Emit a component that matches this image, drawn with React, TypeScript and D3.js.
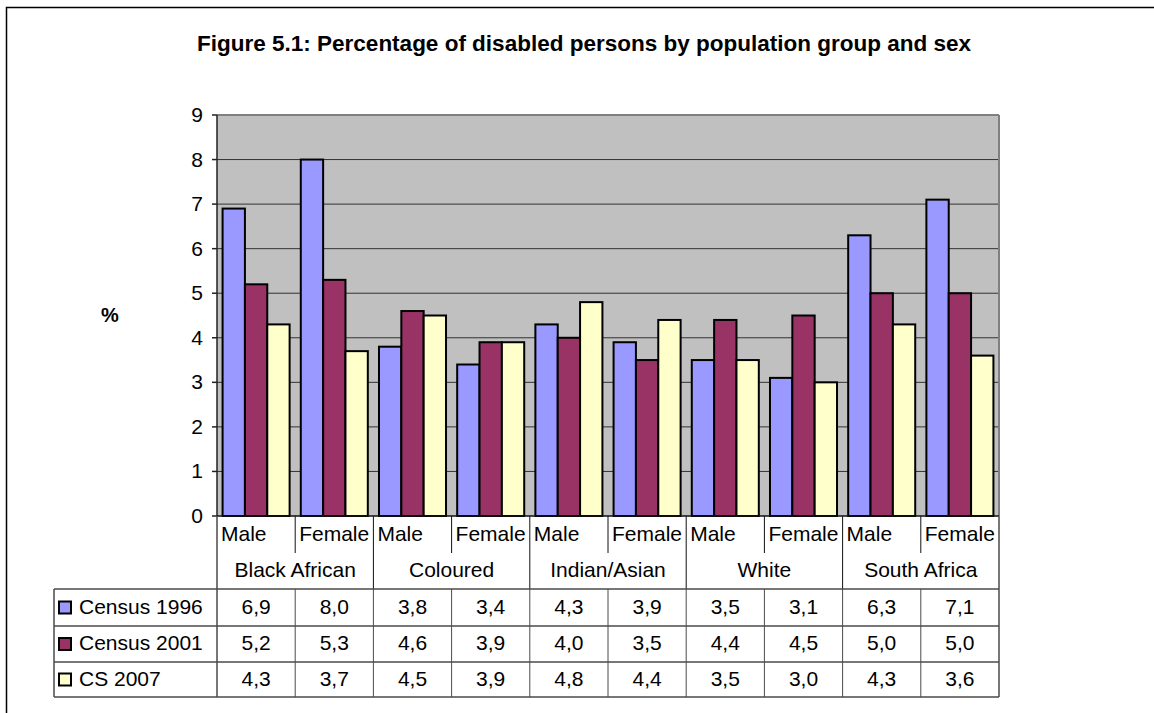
import React from "react";
import * as d3 from "d3";

const groups = ["Black African", "Coloured", "Indian/Asian", "White", "South Africa"];
const sexes = ["Male", "Female"];
const seriesNames = ["Census 1996", "Census 2001", "CS 2007"];
const census1996 = [6.9, 8.0, 3.8, 3.4, 4.3, 3.9, 3.5, 3.1, 6.3, 7.1];
const census2001 = [5.2, 5.3, 4.6, 3.9, 4.0, 3.5, 4.4, 4.5, 5.0, 5.0];
const cs2007 = [4.3, 3.7, 4.5, 3.9, 4.8, 4.4, 3.5, 3.0, 4.3, 3.6];
const yTicks = [0, 1, 2, 3, 4, 5, 6, 7, 8, 9];
const colors = ["#9999FF", "#993366", "#FFFFCC"];
const title = "Figure 5.1: Percentage of disabled persons by population group and sex";

const seriesValues = [census1996, census2001, cs2007];
const categories = groups.flatMap((g) => sexes.map((s) => `${g}|${s}`));

const FONT = "'Liberation Sans', Arial, sans-serif";

export default function App() {
  const left = 217, right = 999, top = 115, bottom = 516;
  const x = d3.scaleBand<string>().domain(categories).range([left, right]).paddingInner(0).paddingOuter(0);
  const inner = d3.scaleBand<number>().domain([0, 1, 2]).range([0, x.bandwidth()]).paddingOuter(0.25).paddingInner(0);
  const y = d3.scaleLinear().domain([0, 9]).range([bottom, top]);
  const colW = x.bandwidth();
  const catRowB = 553, groupRowB = 589;
  const rowBs = [626, 662, 697];
  const rowTs = [589, 626, 662];
  const legendLeft = 54;
  const fmt = (v: number) => v.toFixed(1).replace(".", ",");
  const lineC = "#4a4a4a";
  const fs = 21;

  return (
    <svg width={1154} height={713} style={{ position: "absolute", left: 0, top: 0 }} fontFamily={FONT}>
      <rect x={0} y={0} width={1154} height={713} fill="#fff" />
      <path d="M6.5,713 L6.5,7.5 L1154,7.5" fill="none" stroke="#000" strokeWidth={1.5} />
      <text x={584} y={51} textAnchor="middle" fontWeight="bold" fontSize={22.5}>{title}</text>
      <text x={110} y={322} textAnchor="middle" fontWeight="bold" fontSize={20}>%</text>

      <rect x={left} y={top} width={right - left} height={bottom - top} fill="#C0C0C0" />
      {yTicks.filter((t) => t > 0 && t < 9).map((t) => (
        <line key={t} x1={left} x2={right} y1={y(t)} y2={y(t)} stroke="#333" strokeWidth={1} />
      ))}
      <line x1={left} x2={right} y1={top} y2={top} stroke="#808080" strokeWidth={2} />
      <line x1={right} x2={right} y1={top} y2={bottom} stroke="#808080" strokeWidth={2} />

      {seriesValues.map((vals, si) =>
        vals.map((v, ci) => {
          const bx = (x(categories[ci]) as number) + (inner(si) as number);
          return (
            <rect key={`${si}-${ci}`} x={bx} y={y(v)} width={inner.bandwidth()} height={bottom - y(v)}
              fill={colors[si]} stroke="#000" strokeWidth={2} />
          );
        })
      )}

      <line x1={left} x2={left} y1={top} y2={bottom} stroke="#222" strokeWidth={1.5} />
      {yTicks.map((t) => (
        <g key={t}>
          <line x1={left - 5} x2={left} y1={y(t)} y2={y(t)} stroke="#222" strokeWidth={1.5} />
          <text x={left - 14} y={y(t) + 7} textAnchor="end" fontSize={fs}>{t}</text>
        </g>
      ))}
      <line x1={left} x2={right} y1={bottom} y2={bottom} stroke="#111" strokeWidth={1.5} />

      {categories.map((c, i) => {
        const cx = x(c) as number;
        const isGroupStart = i % 2 === 0;
        return (
          <g key={c}>
            {i > 0 && (
              <line x1={cx} x2={cx} y1={bottom} y2={isGroupStart ? groupRowB : catRowB} stroke="#111" strokeWidth={1} />
            )}
            <text x={cx + 4} y={541} fontSize={fs}>{sexes[i % 2]}</text>
          </g>
        );
      })}
      {groups.map((g, gi) => {
        const gx = x(categories[gi * 2]) as number;
        return <text key={g} x={gx + colW} y={577} textAnchor="middle" fontSize={fs}>{g}</text>;
      })}
      <line x1={left} x2={left} y1={bottom} y2={697} stroke={lineC} strokeWidth={1.5} />
      <line x1={right} x2={right} y1={bottom} y2={697} stroke={lineC} strokeWidth={1.5} />

      <line x1={legendLeft} x2={right} y1={groupRowB} y2={groupRowB} stroke={lineC} strokeWidth={1.5} />
      {rowBs.map((yb) => (
        <line key={yb} x1={legendLeft} x2={right} y1={yb} y2={yb} stroke={lineC} strokeWidth={1.5} />
      ))}
      <line x1={legendLeft} x2={legendLeft} y1={groupRowB} y2={697} stroke={lineC} strokeWidth={1.5} />
      {categories.map((c, i) =>
        i > 0 ? (
          <line key={c} x1={x(c) as number} x2={x(c) as number} y1={groupRowB} y2={697} stroke={lineC} strokeWidth={1} />
        ) : null
      )}
      {seriesValues.map((vals, si) => {
        const cy = (rowTs[si] + rowBs[si]) / 2;
        return (
          <g key={si}>
            <rect x={59} y={cy - 6} width={12} height={12} fill={colors[si]} stroke="#000" strokeWidth={2} />
            <text x={79} y={cy + 6} fontSize={fs}>{seriesNames[si]}</text>
            {vals.map((v, ci) => (
              <text key={ci} x={(x(categories[ci]) as number) + colW / 2} y={cy + 6} textAnchor="middle" fontSize={fs}>
                {fmt(v)}
              </text>
            ))}
          </g>
        );
      })}
    </svg>
  );
}
